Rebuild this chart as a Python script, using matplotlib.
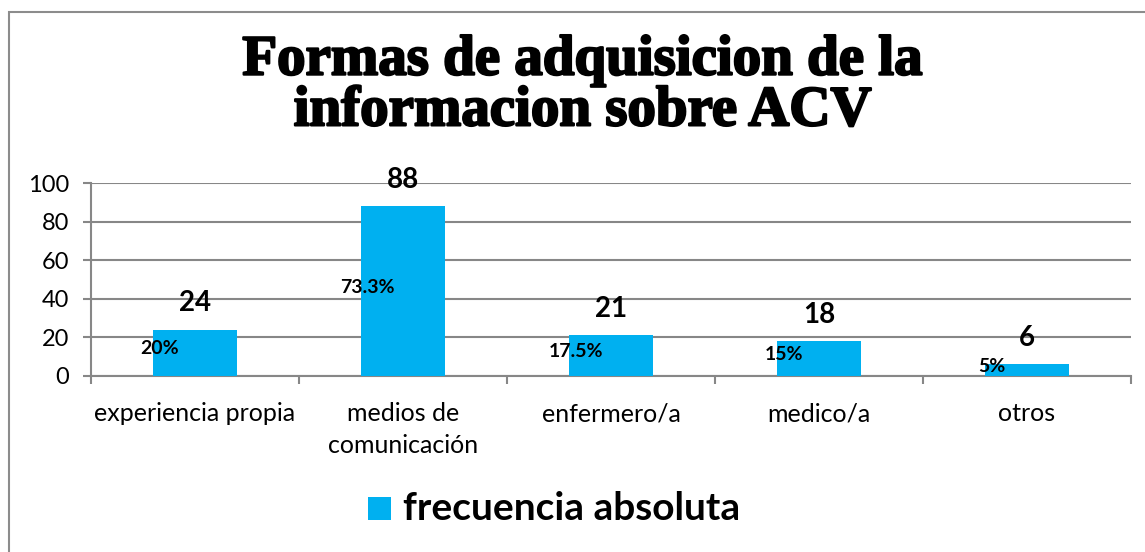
import matplotlib
matplotlib.use("Agg")
import matplotlib.pyplot as plt
import matplotlib.patheffects as pe
from matplotlib.patches import Rectangle
import numpy as np

categories = ["experiencia propia", "medios de\ncomunicación", "enfermero/a", "medico/a", "otros"]
frecuencia = [24, 88, 21, 18, 6]
porcentaje = ["20%", "73.3%", "17.5%", "15%", "5%"]
yticks = [0, 20, 40, 60, 80, 100]

bar_color = "#00B0F0"
grid_color = "#878787"
plt.rcParams['font.family'] = ['Lato', 'DejaVu Sans']

fig = plt.figure(figsize=(11.45, 5.52), dpi=100)
ax = fig.add_axes([91 / 1145, 1 - 376 / 552, 1040 / 1145, 193 / 552])

x = np.arange(len(categories))
bars = ax.bar(x, frecuencia, width=0.4, color=bar_color, zorder=3)

ax.set_xlim(-0.5, len(categories) - 0.5)
ax.set_ylim(0, 100)
ax.set_yticks(yticks)
ax.set_yticklabels([str(t) for t in yticks], fontsize=17)
ax.yaxis.grid(True, color=grid_color, linewidth=1.5, zorder=0)

# category labels between boundary ticks
ax.set_xticks(np.arange(-0.5, len(categories), 1.0))
ax.set_xticklabels([])
ax.set_xticks(x, minor=True)
ax.set_xticklabels(categories, minor=True, fontsize=18, linespacing=1.45)
ax.tick_params(axis='x', which='minor', length=0, pad=19)
ax.tick_params(axis='x', which='major', length=6, width=1.5, color=grid_color)
ax.tick_params(axis='y', length=6, width=1.5, color=grid_color, pad=10)

for side in ["top", "right"]:
    ax.spines[side].set_visible(False)
for side in ["left", "bottom"]:
    ax.spines[side].set_color(grid_color)
    ax.spines[side].set_linewidth(1.5)

# value labels above bars, percent labels at the left of each bar
for xi, v, p in zip(x, frecuencia, porcentaje):
    ax.annotate(str(v), (xi, v), xytext=(0, 19), textcoords="offset points",
                ha="center", va="center", fontsize=20, fontweight="bold", zorder=5)
    ax.text(xi - 0.17, v / 2 + 2, p, ha="center", va="center",
            fontsize=14, fontweight="bold", zorder=5)

# title
fig.text(0.509, 1 - 86 / 552, "Formas de adquisicion de la\ninformacion sobre ACV",
         ha="center", va="center", fontsize=41, fontweight="bold",
         family=["Liberation Serif", "DejaVu Serif"], linespacing=0.97,
         path_effects=[pe.withStroke(linewidth=1.6, foreground="black")])

# legend
fig.patches.append(Rectangle((368 / 1145, 1 - 520 / 552), 23 / 1145, 23 / 552,
                             transform=fig.transFigure, facecolor=bar_color,
                             edgecolor="none"))
fig.text(403 / 1145, 1 - 508 / 552, "frecuencia absoluta", ha="left", va="center",
         fontsize=28, fontweight="bold")

# chart area border
fig.patches.append(Rectangle((9 / 1145, -0.05), 1.1, 1 - 12 / 552 + 0.05,
                             transform=fig.transFigure, facecolor="none",
                             edgecolor="#8c8c8c", linewidth=1.5))

fig.savefig("out.png", dpi=100)
